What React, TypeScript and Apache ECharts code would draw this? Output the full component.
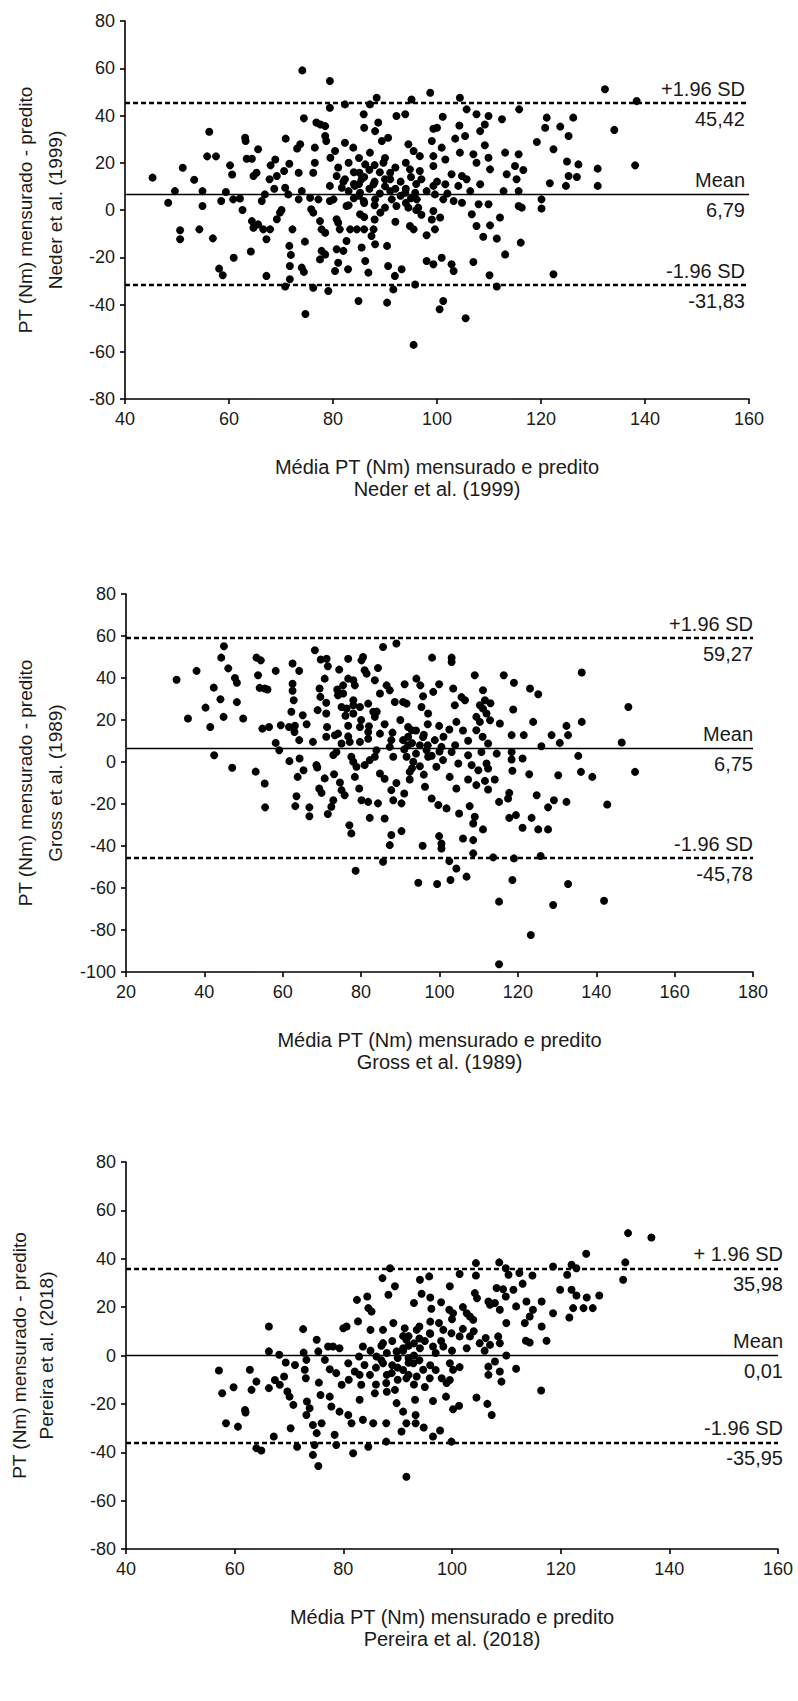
import React, { useEffect, useRef } from "react";
import * as echarts from "echarts";

const FONT = "'Liberation Sans', Arial, sans-serif";
const TXT = "#1a1a1a";

// ---------- DATA ----------
const nederPoints: [number, number][] = [
  [45.3,13.7],[48.3,3.1],[49.6,8.0],[51.1,17.9],[50.6,-8.6],[50.6,-12.4],[53.3,12.8],[54.3,-8.2],[54.9,8.0],[54.9,1.7],
  [56.2,33.1],[55.8,22.7],[57.5,22.7],[56.9,-12.0],[58.5,3.8],[59.4,7.6],[58.1,-24.8],[58.8,-27.6],[60.2,18.9],[60.6,15.0],
  [60.8,4.5],[62.1,4.9],[60.9,-20.2],[62.6,0],[63.1,30.6],[63.2,29.2],[63.4,21.7],[64.4,21.7],[64.2,-17.6],[64.7,14.4],
  [65.3,15.8],[65.6,25.7],[64.4,-4.7],[64.7,-7.5],[65.6,-6.1],[66.6,-8.2],[66.3,3.8],[66.9,6.6],[67.2,-12.4],[67.9,-8.2],
  [67.2,-27.9],[67.8,13.0],[68.0,18.9],[68.9,21.4],[68.7,9.0],[69.2,14.4],[69.2,-3.9],[69.8,-1.1],[70.1,0],[70.9,30.2],
  [70.6,16.5],[70.8,9.4],[70.8,-32.4],[71.4,6.6],[71.6,-15.2],[71.9,-19.0],[71.6,19.6],[72.2,-8.2],[71.7,-23.7],[71.7,-29.3],
  [73.1,26.0],[73.7,27.8],[73.4,15.8],[73.4,4.5],[74.0,8.0],[74.1,59.1],[74.4,38.8],[74.0,-24.4],[74.6,-13.4],[74.4,-26.2],
  [74.7,-44.0],[75.6,5.2],[76.2,-32.9],[76.5,26.4],[76.5,20.0],[76.2,15.8],[75.8,0.3],[76.2,-1.1],[76.8,37.0],[77.6,36.2],
  [78.5,35.5],[77.2,4.5],[77.5,-4.7],[77.8,-17.3],[77.5,-20.9],[78.5,-18.8],[78.5,31.3],[78.7,29.2],[77.8,-8.2],[78.5,-9.6],
  [79.1,-34.3],[79.4,54.6],[79.4,43.3],[79.5,22.1],[79.4,10.2],[79.4,3.8],[80.1,4.5],[80.4,25.0],[80.7,14.4],[80.7,-3.9],
  [81.0,-5.4],[80.4,-25.8],[80.7,-16.6],[81.0,-22.3],[81.3,-8.2],[81.7,9.4],[82.0,-17.3],[82.3,44.7],[82.3,28.5],[82.3,13.0],
  [82.6,1.7],[82.6,-13.1],[82.9,-25.1],[83.3,-8.2],[83.9,26.4],[84.2,10.2],[84.6,-8.2],[84.9,-38.5],[85.1,15.8],[85.2,7.3],
  [85.2,-1.8],[85.5,13.0],[85.9,40.5],[86.0,34.8],[86.2,19.3],[85.9,3.8],[86.0,-8.2],[85.5,-15.9],[86.2,-21.6],[86.8,-26.5],
  [87.1,44.7],[88.1,33.4],[88.4,47.5],[88.7,37.0],[87.1,24.3],[87.8,10.9],[88.1,4.5],[87.8,-8.2],[87.4,-11.0],[88.1,-14.5],
  [89.4,29.2],[89.7,20.0],[90.0,13.0],[89.1,-1.1],[90.4,-15.2],[90.4,-39.2],[90.6,-23.7],[90.6,30.6],[91.0,15.8],[91.3,4.5],
  [91.6,-33.6],[92.2,39.8],[92.2,1.7],[91.9,-27.9],
  [82,12],[83,8],[84,11],[85,6],[86,14],[87,9],[88,12],[89,7],[90,10],[91,8],[86,3],[88,2],[90,1],[84,16],[87,17],
  [89,16],[91,13],[92,9],[83,2],[85,11],[93,12],[94,9],[95,5],[96,11],[94,3],[95,14],[93,6],[96,0],
  [81,18],[83,20],[85,22],[88,19],[90,22],[92,18],[94,20],[97,13],[98,8],[100,12],[102,7],[84,5],[86,-3],[88,-4],[92,-5],[97,-2],
  [95.1,46.8],[98.7,49.6],[104.4,47.5],[132.3,51.1],[138.4,46.1],[93.9,40.5],[105.7,42.6],[107.6,40.5],[109.9,39.8],[109.2,36.2],
  [108.3,33.4],[112.5,38.4],[115.8,42.6],[121.1,39.1],[120.8,34.8],[123.7,35.3],[126.2,39.1],[125.3,31.3],[134.1,33.9],[101.1,39.5],
  [99.3,34.4],[100.0,34.8],[104.3,35.8],[103.5,30.2],[105.4,31.3],[99.0,29.2],[94.5,27.8],[100.9,26.4],[104.4,24.3],[107.0,23.6],
  [109.2,27.4],[107.6,20.0],[109.9,22.1],[110.2,17.2],[113.1,24.3],[115.7,23.6],[115.0,18.6],[116.6,16.9],[113.4,15.1],[115.3,13.0],
  [119.2,28.8],[122.4,25.7],[125.0,20.5],[127.2,19.3],[130.9,17.5],[138.1,18.9],[121.7,11.3],[125.3,14.4],[126.9,14.0],[124.8,10.2],
  [130.9,10.2],[96.7,22.8],[95.5,25.0],[99.3,22.8],[101.6,21.4],[99.3,18.6],[96.7,16.5],[94.8,17.2],[102.8,15.1],[104.8,14.4],
  [105.7,13.0],[99.3,10.2],[101.6,10.9],[104.1,10.2],[106.4,8.0],[108.3,10.9],[112.8,8.0],[115.7,8.0],[120.1,4.5],[120.1,0.6],
  [115.7,1.7],[116.3,1.0],[93.9,7.3],[95.8,7.3],[96.1,4.5],[99.6,6.6],[101.2,4.5],[103.2,3.8],[104.8,3.1],[108.0,2.4],
  [109.9,2.4],[106.7,-1.8],[94.5,1.0],[96.4,1.0],[99.3,-0.4],[100.6,-3.2],[99.0,-4.0],[112.1,-3.2],[110.2,-6.5],[107.6,-6.8],
  [94.8,-6.8],[95.5,-8.2],[99.6,-8.2],[98.0,-10.7],[108.9,-11.3],[111.5,-12.1],[116.1,-13.8],[113.1,-18.8],[100.9,-20.2],[98.0,-21.6],
  [99.3,-23.0],[102.8,-23.0],[103.2,-25.8],[107.0,-22.0],[110.1,-27.6],[122.4,-27.2],[111.5,-32.4],[95.8,-31.5],[93.2,-25.1],[101.2,-38.5],
  [100.5,-42.0],[105.5,-45.8],[95.5,-57.1],
];

const grossPoints: [number, number][] = [
  [32.9,39.2],[35.8,20.7],[38.0,43.4],[40.3,25.9],[41.5,16.7],[42.4,35.4],[42.5,3.2],[44.1,29.9],[44.9,21.5],[44.3,49.7],
  [45.0,55.1],[46.1,44.6],[47.1,-2.7],[47.8,40.0],[48.3,37.7],[48.3,28.5],[49.9,20.7],[53.3,49.7],[54.4,48.4],[53.7,41.3],
  [54.1,35.3],[55.4,35.0],[56.1,34.5],[54.8,15.9],[56.5,16.7],[53.1,-4.6],[55.4,-10.2],[55.5,-21.6],[58.2,43.4],[58.2,9.1],
  [59.1,5.6],[59.5,17.5],[61.6,16.7],[62.5,46.9],[64.2,43.4],[62.5,37.3],[62.5,33.9],[62.8,29.4],[62.2,23.9],[63.1,17.3],
  [63.0,14.3],[64.2,10.4],[61.7,0.4],[64.3,1.7],[65.3,-3.9],[65.1,22.3],[66.1,18.0],[63.8,-7.1],[63.5,-16.3],[63.2,-21.0],
  [66.8,-21.6],[66.8,-25.8],[67.7,9.6],[68.2,53.2],[68.9,24.7],[68.6,-1.5],[68.8,-2.6],[69.3,-12.6],[69.9,-14.7],[69.4,35.0],
  [69.6,31.0],[69.7,48.8],[70.7,39.7],[70.7,-7.8],[71.2,49.2],[71.5,45.6],[71.1,28.2],[71.1,23.1],[71.3,16.7],[71.1,12.0],
  [71.5,-24.8],[72.4,-21.3],[72.9,-18.2],[73.1,-5.8],[72.9,3.3],[73.7,4.8],[73.3,12.7],[74.1,13.5],[75.0,8.8],[74.4,44.0],
  [73.9,34.5],[74.1,31.8],[75.0,26.2],[74.6,-9.8],[75.0,-13.4],[75.8,-15.8],[75.4,36.5],[75.4,32.6],[76.3,25.5],[76.7,39.7],
  [76.7,49.2],[76.7,17.3],[76.7,12.2],[77.1,9.6],[77.0,-30.1],[77.5,-34.0],[78.0,38.9],[78.4,36.5],[78.0,29.4],[78.0,23.1],
  [77.5,2.5],[78.0,0.1],[78.8,-2.3],[78.4,-7.1],[78.6,-51.8],[79.5,-12.6],[79.7,26.2],[79.7,16.7],[79.7,9.6],[80.1,48.4],
  [80.5,50.0],[80.1,-18.2],[81.8,-19.0],[80.9,43.7],[81.4,42.1],[81.8,27.8],[81.8,14.3],[81.8,11.1],[83.1,23.9],[83.5,21.5],
  [80.9,-1.5],[82.2,0.9],[83.5,2.5],[84.3,-19.7],[82.2,-26.6],[83.5,38.9],[84.3,44.8],[84.8,32.6],[84.8,13.5],[83.9,5.6],
  [84.8,-5.5],[85.6,54.8],[86.5,36.5],[86.0,-26.9],[85.6,-47.5],[87.7,-34.8],[87.3,-39.6],[87.3,7.2],[87.7,10.4],[88.2,2.5],
  [87.7,-13.4],[88.2,-18.2],[87.3,34.2],[88.6,28.6],[89.0,56.4],
  [98.1,49.7],[103.1,49.7],[103.1,47.6],[136.3,42.6],[109.0,41.3],[116.4,41.3],[119.0,37.7],[94.1,39.7],[91.1,37.0],[95.1,36.5],
  [99.9,37.0],[103.5,35.0],[98.4,33.4],[95.8,31.3],[105.6,30.9],[106.5,29.4],[111.1,34.2],[111.6,29.4],[123.1,35.0],[125.2,32.3],
  [90.7,28.6],[91.6,27.8],[95.4,26.2],[103.9,27.0],[110.3,27.0],[111.1,25.4],[112.0,23.1],[118.8,25.0],[148.2,26.2],[97.1,23.1],
  [109.4,21.5],[110.3,19.1],[112.9,19.9],[115.4,18.3],[123.9,19.1],[132.4,17.2],[136.3,19.1],[92.0,16.7],[92.9,15.1],[99.9,17.2],
  [102.5,15.5],[104.3,19.1],[109.4,15.1],[118.4,12.8],[121.5,12.8],[128.6,12.8],[132.8,12.8],[130.7,9.1],[126.0,7.5],[146.5,9.3],
  [95.8,11.9],[98.8,10.4],[107.3,10.1],[112.4,8.8],[90.7,10.4],[95.0,8.0],[100.5,7.2],[96.7,5.6],[103.1,4.8],[107.3,3.2],
  [110.7,4.8],[114.6,4.0],[118.4,4.8],[118.4,1.2],[121.2,1.7],[135.4,2.9],[91.6,2.5],[93.3,0.1],[97.1,2.5],[99.2,-2.3],
  [100.9,0.9],[104.8,-0.7],[108.2,-1.5],[109.9,-3.9],[112.0,-0.7],[112.4,-3.1],[92.4,-4.7],[92.4,-8.3],[102.6,-7.1],[107.3,-8.3],
  [109.4,-11.0],[111.6,-9.0],[114.1,-8.3],[112.4,-13.1],[118.6,-4.2],[122.9,-5.8],[130.3,-6.3],[136.1,-4.7],[139.0,-7.1],[149.9,-4.7],
  [104.3,-12.6],[96.3,-11.8],[90.3,-19.7],[98.0,-17.4],[99.7,-20.5],[101.8,-22.1],[105.0,-24.5],[107.7,-21.0],[109.0,-26.1],[108.6,-29.3],
  [111.1,-32.1],[115.2,-19.0],[117.5,-17.4],[117.8,-14.7],[124.8,-15.8],[127.7,-21.6],[129.2,-18.2],[132.4,-19.0],[142.8,-20.2],[117.8,-26.6],
  [119.5,-25.3],[123.5,-26.6],[121.2,-31.3],[125.2,-32.1],[127.7,-32.1],[90.3,-32.9],[99.9,-35.3],[100.5,-38.8],[100.5,-41.2],[106.0,-36.4],
  [108.6,-37.2],[95.7,-39.9],[108.6,-43.5],[102.5,-47.2],[104.3,-50.7],[106.9,-54.6],[102.8,-56.2],[99.4,-58.1],[94.6,-57.5],[113.7,-45.4],
  [119.0,-45.9],[125.8,-44.8],[118.6,-56.2],[132.8,-58.1],[115.2,-66.5],[129.0,-68.1],[142.0,-66.1],[123.3,-82.4],[115.2,-96.3],
  [91,6],[93,9],[94,4],[96,13],[92,12],[97,8],[98,3],[100,5],[95,-2],[93,-3],
  [76,22],[78,27],[80,20],[82,17],[84,24],[86,18],[88,14],[90,20],[92,8],[94,15],[97,18],[101,12],[104,8],[106,15],
  [111,12],[113,28],[86,-8],[89,-10],[91,-15],[96,-6],
];

const pereiraPoints: [number, number][] = [
  [57.1,-6.2],[57.7,-15.6],[59.8,-13.1],[58.4,-28.0],[60.6,-29.4],[61.9,-22.5],[62.0,-23.6],[62.8,-5.9],[63.1,-14.2],[64.0,-10.8],
  [64.0,-38.3],[64.9,-39.3],[66.3,12.0],[66.3,1.7],[66.3,-13.5],[68.2,0.3],[67.4,-10.1],[67.2,-33.5],[68.3,-12.1],[69.1,-8.7],
  [69.4,-2.9],[69.7,-14.9],[70.1,-17.0],[70.8,-20.4],[70.3,-30.1],[71.1,-3.9],[71.5,-37.7],[72.6,10.9],[72.7,1.2],[72.9,-5.9],
  [73.2,-1.8],[73.1,-9.4],[73.3,-19.0],[73.2,-24.6],[73.8,-21.8],[74.4,-28.7],[74.7,-37.0],[75.1,-32.1],[74.4,-41.1],[75.4,-45.7],
  [75.1,6.5],[75.4,1.7],[75.5,-11.2],[75.8,-16.3],[76.0,-28.0],[76.6,-1.8],[77.2,3.7],[77.5,-5.7],[77.5,-17.0],[77.8,-21.1],
  [78.4,-32.8],[78.7,-37.0],[78.1,3.7],[78.7,-7.3],[79.3,3.0],[79.3,-23.2],[79.7,-12.1],[80.0,11.3],[80.6,12.0],[80.9,-3.2],
  [80.9,-24.6],[81.5,-28.0],[81.8,-40.4],[82.1,-6.6],[82.7,14.1],[82.9,-0.4],[83.3,-12.1],[83.0,-18.3],[82.5,23.0],[84.4,24.4],
  [83.6,3.7],[83.9,-3.9],[83.6,-26.6],[84.6,-37.7],[84.6,19.6],[85.2,18.2],[85.0,10.6],[84.9,-8.0],[85.5,-28.0],[85.8,-15.6],
  [86.1,-0.4],[87.2,32.0],[87.9,-28.0],[87.9,-35.6],[88.3,25.1],[88.6,36.1],[87.3,5.1],[87.3,-3.2],[87.3,10.6],[89.2,13.4],
  [88.9,-7.3],[87.9,-11.4],[89.5,28.6],[89.5,-14.2],[89.8,1.7],[89.8,-19.7],
  [86,-5],[87,-2],[88,1],[89,-4],[90,-1],[91,2],[92,-3],[93,0],[88,-8],[90,-10],[91,-6],[93,-12],[85,2],[87,4],[89,6],[91,8],
  [86,-12],[88,-15],[90,-5],[92,4],[94,7],[96,9],[98,6],[100,2],[102,11],[104,10],[106,2],[92,-8],[95,-13],[97,-6],
  [83,-8],[81,-10],[100,15],[102,20],[98,22],[96,24],
  [132.4,50.6],[136.7,48.8],[124.7,42.1],[131.9,38.5],[131.5,31.3],[108.7,38.5],[104.4,38.2],[118.6,36.8],[122.0,37.5],[122.9,36.1],
  [109.9,36.1],[110.4,33.4],[112.4,34.1],[114.8,33.1],[121.2,33.4],[101.4,33.7],[104.4,33.1],[95.8,32.7],[94.1,31.3],[113.0,29.7],
  [99.6,28.6],[119.9,27.2],[122.0,27.2],[122.9,24.8],[124.8,24.0],[127.1,24.8],[108.2,27.9],[109.4,27.4],[109.9,24.4],[111.3,27.2],
  [104.2,25.8],[104.6,23.7],[94.4,25.5],[93.0,21.7],[96.2,19.3],[99.5,18.9],[100.2,17.5],[102.7,17.5],[103.3,16.1],[103.9,14.8],
  [106.7,22.3],[107.0,21.0],[107.9,21.7],[108.8,18.9],[110.0,13.4],[111.8,20.3],[113.7,22.3],[116.5,22.3],[114.9,18.9],[113.4,13.4],
  [114.3,16.1],[116.5,12.0],[118.6,17.5],[121.6,15.7],[122.3,19.6],[124.2,19.6],[125.9,19.6],[113.6,6.1],[114.3,5.4],[117.4,6.1],
  [97.6,13.4],[98.4,10.6],[99.9,9.2],[101.4,7.9],[103.3,7.9],[105.1,5.1],[106.2,7.2],[107.0,4.4],[108.5,7.9],[108.8,5.1],
  [91.3,11.3],[93.5,10.6],[95.9,9.2],[91.6,6.5],[94.1,3.0],[96.5,3.7],[98.4,3.7],[102.7,3.0],[110.0,0.0],[107.9,-2.5],
  [106.7,-4.6],[106.7,-8.0],[108.8,-6.6],[111.8,-5.5],[109.1,-10.8],[99.6,-3.2],[100.2,-5.9],[101.4,-4.8],[98.1,-9.4],[99.0,-11.4],
  [99.6,-10.1],[92.9,-3.2],[94.7,-5.9],[93.5,-8.7],[95.9,-9.4],[91.6,-9.4],[116.4,-14.5],[98.9,-17.0],[96.5,-18.8],[104.5,-17.4],
  [106.5,-20.0],[101.3,-20.8],[100.2,-22.2],[107.3,-24.6],[93.2,-18.3],[91.0,-23.2],[93.3,-24.6],[91.6,-28.0],[93.3,-28.0],[94.8,-29.8],
  [96.5,-33.5],[97.8,-31.0],[99.9,-35.6],[90.7,-31.4],[91.6,-50.1],
  [91,3],[92,8],[93,5],[94,12],[95,6],[96,14],[97,1],[92,-1],[94,-2],[96,-4],
];

// limits of agreement: [upper, mean, lower]
const nederLimits = [45.42, 6.79, -31.83];
const grossLimits = [59.27, 6.75, -45.78];
const pereiraLimits = [35.98, 0.01, -35.95];

const nederLabels = ["+1.96 SD", "45,42", "Mean", "6,79", "-1.96 SD", "-31,83"];
const grossLabels = ["+1.96 SD", "59,27", "Mean", "6,75", "-1.96 SD", "-45,78"];
const pereiraLabels = ["+ 1.96 SD", "35,98", "Mean", "0,01", "-1.96 SD", "-35,95"];

const xTitleLine1 = "Média PT (Nm) mensurado e predito";
const yTitleLine1 = "PT (Nm) mensurado - predito";
const sources = ["Neder et al. (1999)", "Gross et al. (1989)", "Pereira et al. (2018)"];

const xRanges = [[40, 160], [20, 180], [40, 160]];
const yRanges = [[-80, 80], [-100, 80], [-80, 80]];

// ---------- LAYOUT ----------
const grids = [
  { left: 125, top: 21, width: 624, height: 378 },
  { left: 126, top: 594, width: 627, height: 378 },
  { left: 126, top: 1162, width: 652, height: 387 },
];
const yTitleX = [[25, 55], [25, 55], [19, 46]];
const labelDx = [-4, 0, 5];

export default function App() {
  const ref = useRef<HTMLDivElement>(null);
  useEffect(() => {
    document.body.style.margin = "0";
    if (!ref.current) return;
    const chart = echarts.init(ref.current, undefined, { renderer: "svg" });
    const pointsAll = [nederPoints, grossPoints, pereiraPoints];
    const limitsAll = [nederLimits, grossLimits, pereiraLimits];
    const labelsAll = [nederLabels, grossLabels, pereiraLabels];

    const axisCommon = {
      type: "value" as const,
      interval: 20,
      axisLine: { show: true, onZero: false, lineStyle: { color: "#000", width: 1.6 } },
      axisTick: { show: true, inside: false, length: 5, lineStyle: { color: "#000", width: 1.6 } },
      splitLine: { show: false },
      axisLabel: { fontSize: 18, color: TXT, fontFamily: FONT },
    };

    const dashed = { type: [5, 3] as any, width: 2.4, color: "#000" };
    const solid = { type: "solid" as const, width: 1.3, color: "#000" };

    const option: any = {
      animation: false,
      backgroundColor: "#fff",
      grid: grids.map((g) => ({ ...g, containLabel: false })),
      xAxis: grids.map((_, i) => ({
        ...axisCommon,
        gridIndex: i,
        min: xRanges[i][0],
        max: xRanges[i][1],
        axisLabel: { ...axisCommon.axisLabel, margin: 11 },
      })),
      yAxis: grids.map((_, i) => ({
        ...axisCommon,
        gridIndex: i,
        min: yRanges[i][0],
        max: yRanges[i][1],
        axisLabel: { ...axisCommon.axisLabel, margin: 10 },
      })),
      series: pointsAll.map((pts, i) => ({
        type: "scatter",
        xAxisIndex: i,
        yAxisIndex: i,
        data: pts,
        symbol: "circle",
        symbolSize: 8,
        itemStyle: { color: "#000", opacity: 1 },
        silent: true,
        markLine: {
          silent: true,
          symbol: "none",
          label: { show: false },
          data: [
            { yAxis: limitsAll[i][0], lineStyle: dashed },
            { yAxis: limitsAll[i][1], lineStyle: solid },
            { yAxis: limitsAll[i][2], lineStyle: dashed },
          ],
        },
      })),
    };
    chart.setOption(option);

    const graphic: any[] = [];
    grids.forEach((g, i) => {
      const cx = g.left + g.width / 2;
      const cy = g.top + g.height / 2;
      const bottom = g.top + g.height;
      graphic.push({
        type: "text",
        x: cx,
        y: bottom + 68,
        style: { text: xTitleLine1, fontSize: 20, fontFamily: FONT, fill: TXT, align: "center", verticalAlign: "middle" },
      });
      graphic.push({
        type: "text",
        x: cx,
        y: bottom + 90,
        style: { text: sources[i], fontSize: 20, fontFamily: FONT, fill: TXT, align: "center", verticalAlign: "middle" },
      });
      graphic.push({
        type: "text",
        x: yTitleX[i][0],
        y: cy,
        rotation: Math.PI / 2,
        style: { text: yTitleLine1, fontSize: 19, fontFamily: FONT, fill: TXT, align: "center", verticalAlign: "middle" },
      });
      graphic.push({
        type: "text",
        x: yTitleX[i][1],
        y: cy,
        rotation: Math.PI / 2,
        style: { text: sources[i], fontSize: 19, fontFamily: FONT, fill: TXT, align: "center", verticalAlign: "middle" },
      });
      const lim = limitsAll[i];
      const labs = labelsAll[i];
      lim.forEach((v, k) => {
        const p = chart.convertToPixel({ xAxisIndex: i, yAxisIndex: i } as any, [xRanges[i][1], v]) as number[];
        const px = p[0] + labelDx[i];
        graphic.push({
          type: "text",
          x: px,
          y: p[1] - 14,
          style: { text: labs[k * 2], fontSize: 20, fontFamily: FONT, fill: TXT, align: "right", verticalAlign: "middle" },
        });
        graphic.push({
          type: "text",
          x: px,
          y: p[1] + 16,
          style: { text: labs[k * 2 + 1], fontSize: 20, fontFamily: FONT, fill: TXT, align: "right", verticalAlign: "middle" },
        });
      });
    });
    chart.setOption({ graphic });

    return () => chart.dispose();
  }, []);
  return <div ref={ref} style={{ width: 798, height: 1701 }} />;
}
